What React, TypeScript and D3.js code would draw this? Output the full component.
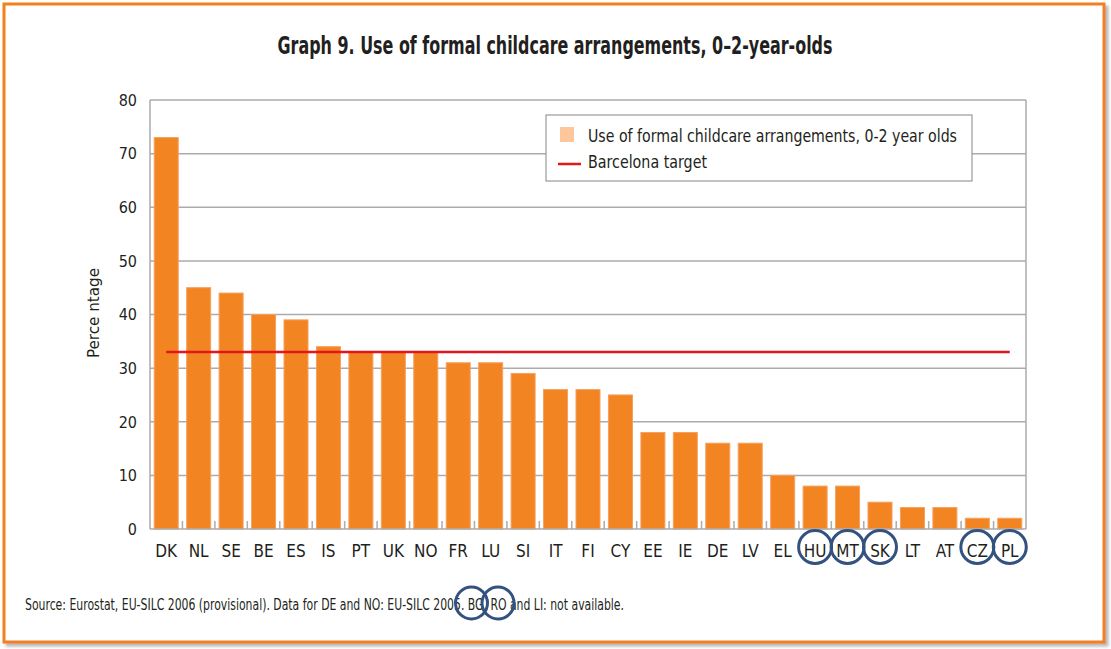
import React from "react";
import * as d3 from "d3";

const categories = ["DK","NL","SE","BE","ES","IS","PT","UK","NO","FR","LU","SI","IT","FI","CY","EE","IE","DE","LV","EL","HU","MT","SK","LT","AT","CZ","PL"];
const values = [73,45,44,40,39,34,33,33,33,31,31,29,26,26,25,18,18,16,16,10,8,8,5,4,4,2,2];
const barcelonaTarget = 33;
const yTicks = [0,10,20,30,40,50,60,70,80];
const circledCategories = ["HU","MT","SK","CZ","PL"];
const seriesLabel = "Use of formal childcare arrangements, 0-2 year olds";
const targetLabel = "Barcelona target";
const title = "Graph 9. Use of formal childcare arrangements, 0\u20132-year-olds";
const source = "Source: Eurostat, EU-SILC 2006 (provisional). Data for DE and NO: EU-SILC 2005. BG, RO and LI: not available.";

const W = 1111, H = 649;
const left = 150, right = 1026, top = 100, bottom = 529;
const font = "'Liberation Sans Narrow', 'DejaVu Sans Condensed', 'Open Sans', sans-serif";
const txt = "#231f20";
const grid = "#ababab";
const barColor = "#f28522";
const red = "#e3161d";
const circleColor = "#33527f";

export default function App() {
  const x = d3.scaleBand<string>().domain(categories).range([left, right]).paddingInner(0.26).paddingOuter(0.13);
  const y = d3.scaleLinear().domain([0, 80]).range([bottom, top]);
  const step = x.step();
  const bw = x.bandwidth();
  const cx = (c: string) => (x(c) as number) + bw / 2;
  const firstC = cx(categories[0]);
  const lastC = cx(categories[categories.length - 1]);

  return (
    <svg width={W} height={H} style={{ position: "absolute", left: 0, top: 0, background: "#fff" }} fontFamily={font}>
      <defs>
        <filter id="sh" x="-5%" y="-5%" width="110%" height="110%">
          <feDropShadow dx="3" dy="3" stdDeviation="1.5" floodColor="#888" floodOpacity="0.6" />
        </filter>
      </defs>
      <rect x={4} y={4} width={1100} height={638} fill="#fff" stroke="#f47f1f" strokeWidth={3} filter="url(#sh)" />

      <text x={555} y={54} textAnchor="middle" fontSize={25} fontWeight="bold" fill={txt} textLength={555} lengthAdjust="spacingAndGlyphs">{title}</text>

      {yTicks.map(t => (
        <g key={t}>
          {t > 0 && <line x1={left} x2={right} y1={y(t)} y2={y(t)} stroke={grid} strokeWidth={1.5} />}
          <text x={137} y={y(t)} dy="0.36em" textAnchor="end" fontSize={16} fill={txt}>{t}</text>
        </g>
      ))}
      <line x1={right} x2={right} y1={top} y2={bottom} stroke={grid} strokeWidth={1.5} />

      {categories.map((c, i) => (
        <rect key={c} x={x(c)} y={y(values[i])} width={bw} height={y(0) - y(values[i])} fill={barColor} stroke="#f6a060" strokeWidth={1} />
      ))}

      <line x1={left} x2={left} y1={top} y2={bottom} stroke={grid} strokeWidth={1.5} />
      <line x1={left} x2={right} y1={bottom} y2={bottom} stroke={grid} strokeWidth={1.5} />
      {categories.slice(1).map((c, i) => (
        <line key={"t" + c} x1={left + (i + 1) * step} x2={left + (i + 1) * step} y1={bottom - 8} y2={bottom} stroke={grid} strokeWidth={1.5} />
      ))}

      <line x1={firstC} x2={lastC} y1={y(barcelonaTarget)} y2={y(barcelonaTarget)} stroke={red} strokeWidth={2.5} />

      {categories.map(c => (
        <text key={"l" + c} x={cx(c)} y={557} textAnchor="middle" fontSize={17} fill={txt}>{c}</text>
      ))}

      <text transform={`translate(99,313) rotate(-90)`} textAnchor="middle" fontSize={16} fill={txt} textLength={90} lengthAdjust="spacingAndGlyphs">Perce ntage</text>

      <g>
        <rect x={546} y={115} width={426} height={66} fill="#fff" stroke="#9a9a9a" strokeWidth={1.2} />
        <rect x={560} y={127} width={14} height={15} fill="#fdc79b" />
        <text x={588} y={142} fontSize={17} fill={txt} textLength={369} lengthAdjust="spacingAndGlyphs">{seriesLabel}</text>
        <line x1={558} x2={581} y1={164} y2={164} stroke={red} strokeWidth={2.5} />
        <text x={588} y={168} fontSize={17} fill={txt} textLength={119} lengthAdjust="spacingAndGlyphs">{targetLabel}</text>
      </g>

      <text x={25} y={610} fontSize={16} fill={txt} textLength={599} lengthAdjust="spacingAndGlyphs">{source}</text>

      {circledCategories.map(c => (
        <circle key={"c" + c} cx={cx(c)} cy={547} r={16.5} fill="none" stroke={circleColor} strokeWidth={3} />
      ))}
      <circle cx={471.5} cy={603} r={16} fill="none" stroke={circleColor} strokeWidth={3} />
      <circle cx={498} cy={603} r={16} fill="none" stroke={circleColor} strokeWidth={3} />
    </svg>
  );
}
